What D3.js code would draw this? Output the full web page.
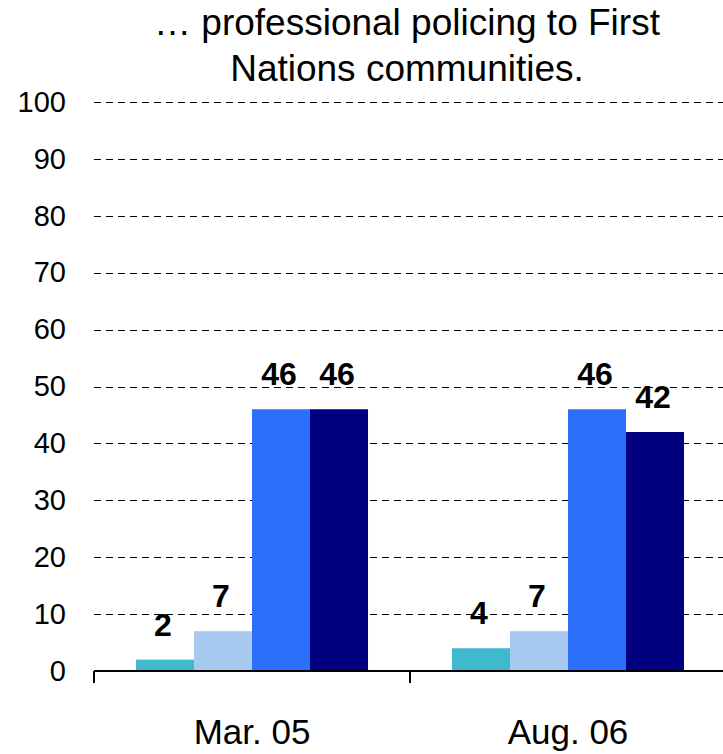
<!DOCTYPE html>
<html>
<head>
<meta charset="utf-8">
<script src="https://cdn.jsdelivr.net/npm/d3@7"></script>
<style>
  html, body { margin: 0; padding: 0; background: #fff; }
  svg { display: block; font-family: "Liberation Sans", Arial, sans-serif; }
</style>
</head>
<body>
<svg id="chart" width="723" height="754"></svg>
<script>
const titleLines = ["\u2026 professional policing to First", "Nations communities."];
const categories = ["Mar. 05", "Aug. 06"];
const seriesNames = ["Series 1", "Series 2", "Series 3", "Series 4"];
const seriesColors = ["#40B8CE", "#A8C9EF", "#2B6FFA", "#000080"];
const values = [
  [2, 7, 46, 46],
  [4, 7, 46, 42]
];
const yTicks = [0, 10, 20, 30, 40, 50, 60, 70, 80, 90, 100];

const svg = d3.select("#chart");
const plotLeft = 94, plotRight = 726, plotTop = 102, plotBottom = 671;

const y = d3.scaleLinear().domain([0, 100]).range([plotBottom, plotTop]);
const x0 = d3.scaleBand().domain(categories).range([plotLeft, plotRight]).padding(0);
const x1 = d3.scaleBand().domain(seriesNames).range([0, x0.bandwidth()])
  .paddingInner(0).paddingOuter(0.724);

// Title
svg.append("g").selectAll("text").data(titleLines).join("text")
  .attr("x", 407).attr("y", (d, i) => 35 + i * 46).attr("text-anchor", "middle")
  .attr("font-size", 37).attr("fill", "#000").text(d => d);

// Gridlines
svg.append("g").selectAll("line").data(yTicks.filter(d => d > 0)).join("line")
  .attr("x1", plotLeft).attr("x2", 723)
  .attr("y1", d => Math.round(y(d)) + 0.5).attr("y2", d => Math.round(y(d)) + 0.5)
  .attr("stroke", "#000").attr("stroke-width", 1).attr("stroke-dasharray", "7,5");

// Y axis labels
const yAxis = d3.axisLeft(y).tickValues(yTicks).tickSize(0).tickPadding(0);
const gy = svg.append("g").attr("transform", "translate(66,0)").call(yAxis);
gy.select(".domain").remove();
gy.selectAll("text").attr("font-size", 29).attr("fill", "#000")
  .attr("font-family", "Liberation Sans, Arial, sans-serif");

// Bars
const groups = svg.append("g").selectAll("g").data(categories).join("g")
  .attr("transform", d => `translate(${x0(d)},0)`);
groups.selectAll("rect").data((d, i) => values[i].map((v, j) => ({ s: seriesNames[j], v, j })))
  .join("rect")
  .attr("x", d => x1(d.s)).attr("width", x1.bandwidth())
  .attr("y", d => y(d.v)).attr("height", d => y(0) - y(d.v))
  .attr("fill", d => seriesColors[d.j]);

// Value labels
groups.selectAll("text.val").data((d, i) => values[i].map((v, j) => ({ s: seriesNames[j], v, j })))
  .join("text").attr("class", "val")
  .attr("x", d => x1(d.s) + x1.bandwidth() / 2 - 2)
  .attr("y", d => y(d.v) - 24)
  .attr("text-anchor", "middle").attr("font-size", 32).attr("font-weight", "bold")
  .attr("fill", "#000").text(d => d.v);

// X axis
const xAxis = d3.axisBottom(x0).tickSize(0).tickPadding(0);
const gx = svg.append("g").attr("transform", `translate(0,${plotBottom})`).call(xAxis);
gx.select(".domain").remove();
gx.selectAll("text").attr("font-size", 35).attr("fill", "#000")
  .attr("font-family", "Liberation Sans, Arial, sans-serif")
  .attr("dy", 0).attr("y", 73);
svg.append("line").attr("x1", plotLeft).attr("x2", 723).attr("y1", plotBottom).attr("y2", plotBottom)
  .attr("stroke", "#000").attr("stroke-width", 2);
const boundaries = [plotLeft].concat(categories.map(c => x0(c) + x0.bandwidth()));
svg.append("g").selectAll("line").data(boundaries).join("line")
  .attr("x1", d => d).attr("x2", d => d).attr("y1", plotBottom).attr("y2", plotBottom + 12)
  .attr("stroke", "#000").attr("stroke-width", 2);
</script>
</body>
</html>
